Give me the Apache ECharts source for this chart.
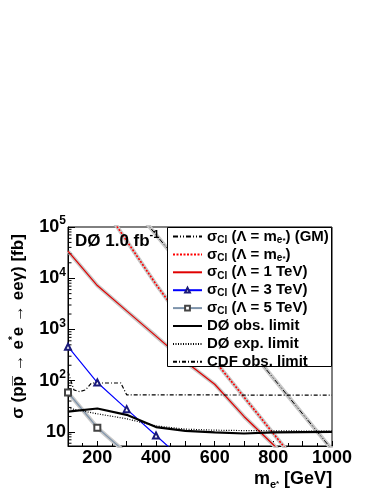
<!DOCTYPE html>
<html>
<head>
<meta charset="utf-8">
<script src="https://cdn.jsdelivr.net/npm/echarts@6/dist/echarts.min.js"></script>
<style>
html, body { margin: 0; padding: 0; background: #fff; }
#chart { width: 382px; height: 494px; }
</style>
</head>
<body>
<div id="chart"></div>
<script>
// theory curves, sampled every 100 GeV
const massTheory = [100, 200, 300, 400, 500, 600, 700, 800, 900, 1000];
const sigmaGM = [null, null, 355000, 70800, 14100, 2820, 562, 112, 22.4, 4.5];
const sigmaMestar = [null, 380000, 53700, 7600, 1260, 245, 48, 9.3, 1.8, null];
const sigma1TeV = [33700, 7200, 2300, 740, 236, 85, 20, 5.6, 1.5, null];
const sigma3TeV = [460, 92, 27.8, 8.5, 2.6, null, null, null, null, null];
const sigma5TeV = [58.7, 12.1, 3.8, null, null, null, null, null, null, null];
// limits
const limitObs = [24.9, 28.6, 21.5, 12.4, 10.5, 9.8, 9.3, 9.8, 9.9, 10.0];
const limitExp = [29, 22.5, 18, 13.1, 11.3, 10.8, 10.6, 10.5, 10.4, 10.3];
const massCDF = [100, 120, 140, 160, 180, 280, 300, 1000];
const limitCDF = [150, 66, 61, 66, 90, 90, 53, 52];

const FONT = "'Liberation Sans', Arial, sans-serif";

function pairs(xs, ys) {
  const out = [];
  xs.forEach((x, i) => { if (ys[i] != null) out.push([x, ys[i]]); });
  return out;
}

// minor ticks of the log axis at 2..9 x 10^n
const minorTickVals = [];
for (let n = 0; n < 5; n++) {
  for (let k = 2; k <= 9; k++) {
    const v = k * Math.pow(10, n);
    if (v > 5.3 && v < 100000) minorTickVals.push([100, v]);
  }
}

const legendText = {
  GM: '{a|σ}{s|CI}{a| (Λ = m}{s|e}{t|*}{a|) (GM)}',
  me: '{a|σ}{s|CI}{a| (Λ = m}{s|e}{t|*}{a|)}',
  t1: '{a|σ}{s|CI}{a| (Λ = 1 TeV)}',
  t3: '{a|σ}{s|CI}{a| (Λ = 3 TeV)}',
  t5: '{a|σ}{s|CI}{a| (Λ = 5 TeV)}',
  obs: '{a|DØ obs. limit}',
  exp: '{a|DØ exp. limit}',
  cdf: '{a|CDF obs. limit}'
};

function band(data) {
  return {
    type: 'line', data: data, symbol: 'none', silent: true, z: 1,
    lineStyle: { color: '#c8c8c8', width: 4 }
  };
}

// plain line; the symbol is kept only so the legend draws a bare line
function curve(name, data, lineStyle) {
  return {
    name: name, type: 'line', data: data, z: 2,
    symbol: 'circle', showSymbol: false,
    lineStyle: lineStyle, itemStyle: { color: 'rgba(0,0,0,0)' }
  };
}

const chart = echarts.init(document.getElementById('chart'));
chart.setOption({
  animation: false,
  backgroundColor: '#fff',
  title: {
    text: '{a|DØ 1.0 fb}{e|-1}',
    left: 75,
    top: 231,
    padding: 0,
    textStyle: {
      rich: {
        a: { fontFamily: FONT, fontSize: 17, fontWeight: 'bold', color: '#000', lineHeight: 20 },
        e: { fontFamily: FONT, fontSize: 11, fontWeight: 'bold', color: '#000', lineHeight: 8, padding: [0, 0, 12, 0] }
      }
    }
  },
  grid: {
    left: 68, right: 50, top: 227, bottom: 48,
    outerBoundsMode: 'none', containLabel: false,
    show: true, borderColor: '#000', borderWidth: 1, backgroundColor: 'transparent'
  },
  xAxis: {
    type: 'value', min: 100, max: 1000, interval: 100,
    name: '{m|m}{s|e}{t|*}{m| [GeV]}',
    nameLocation: 'middle', nameGap: 17,
    nameTextStyle: {
      verticalAlign: 'top', padding: [0, 0, 0, 186],
      rich: {
        m: { fontFamily: FONT, fontSize: 18, fontWeight: 'bold', color: '#000', lineHeight: 20 },
        s: { fontFamily: FONT, fontSize: 11, fontWeight: 'bold', color: '#000', lineHeight: 8, padding: [12, 0, 0, 0] },
        t: { fontFamily: FONT, fontSize: 8, fontWeight: 'bold', color: '#000', lineHeight: 8, padding: [8, 0, 0, 0] }
      }
    },
    axisLine: { lineStyle: { color: '#000', width: 1 } },
    axisTick: { inside: true, length: 5, lineStyle: { color: '#000' } },
    minorTick: { show: true, splitNumber: 2, length: 3, lineStyle: { color: '#000' } },
    splitLine: { show: false },
    axisLabel: {
      margin: 3, color: '#000', fontFamily: FONT, fontSize: 18, fontWeight: 'bold',
      formatter: v => (v % 200 === 0 ? String(v) : '')
    }
  },
  yAxis: {
    type: 'log', logBase: 10, min: 5.3, max: 100000,
    name: '{a|σ (pp\u0305 → e}{u|*}{a|e → eeγ) [fb]}',
    nameLocation: 'middle', nameRotate: 90, nameGap: 38,
    nameTextStyle: {
      padding: [0, 0, 0, 20],
      rich: {
        a: { fontFamily: FONT, fontSize: 17, fontWeight: 'bold', color: '#000', lineHeight: 18 },
        u: { fontFamily: FONT, fontSize: 10, fontWeight: 'bold', color: '#000', lineHeight: 8, padding: [0, 0, 10, 0] }
      }
    },
    axisLine: { lineStyle: { color: '#000', width: 1 } },
    axisTick: { inside: true, length: 7, lineStyle: { color: '#000' } },
    splitLine: { show: false },
    axisLabel: {
      margin: 2,
      formatter: v => {
        const e = Math.log10(v);
        if (Math.abs(e - Math.round(e)) > 1e-6) return '';
        const n = Math.round(e);
        return n === 1 ? '{b|10}' : '{b|10}{e|' + n + '}';
      },
      rich: {
        b: { fontFamily: FONT, fontSize: 18, fontWeight: 'bold', color: '#000', lineHeight: 20 },
        e: { fontFamily: FONT, fontSize: 12, fontWeight: 'bold', color: '#000', lineHeight: 10, padding: [0, 0, 12, 0] }
      }
    }
  },
  legend: {
    orient: 'vertical', left: 172, top: 228, padding: 0,
    itemWidth: 29, itemHeight: 6, itemGap: 0.9,
    data: ['GM', 'me', 't1', 't3', 't5', 'obs', 'exp', 'cdf'],
    formatter: name => legendText[name],
    textStyle: {
      color: '#000', lineHeight: 17,
      rich: {
        a: { fontFamily: FONT, fontSize: 15, fontWeight: 'bold', color: '#000', lineHeight: 17 },
        s: { fontFamily: FONT, fontSize: 10, fontWeight: 'bold', color: '#000', lineHeight: 10, verticalAlign: 'bottom' },
        t: { fontFamily: FONT, fontSize: 8, fontWeight: 'bold', color: '#000', lineHeight: 14, verticalAlign: 'bottom' }
      }
    }
  },
  graphic: [{
    type: 'rect', z: 3, silent: true,
    shape: { x: 167.5, y: 227.5, width: 164, height: 139 },
    style: { fill: '#fff', stroke: '#000', lineWidth: 1 }
  }],
  series: [
    band(pairs(massTheory, sigmaGM)),
    band(pairs(massTheory, sigmaMestar)),
    band(pairs(massTheory, sigma1TeV)),
    band(pairs(massTheory, sigma5TeV)),
    {
      type: 'custom', silent: true, z: 2,
      data: minorTickVals,
      renderItem: (params, api) => {
        const p = api.coord([api.value(0), api.value(1)]);
        return { type: 'line', shape: { x1: p[0], y1: p[1], x2: p[0] + 3.5, y2: p[1] }, style: { stroke: '#000', lineWidth: 1 } };
      }
    },
    curve('GM', pairs(massTheory, sigmaGM), { color: '#000', width: 1, type: [5, 2, 1, 2, 1, 2] }),
    curve('me', pairs(massTheory, sigmaMestar), { color: '#ff0000', width: 1.6, type: [2, 1.5] }),
    curve('t1', pairs(massTheory, sigma1TeV), { color: '#e00000', width: 1.2 }),
    {
      name: 't3', type: 'line', data: pairs(massTheory, sigma3TeV), z: 2,
      symbol: 'emptyTriangle', symbolSize: 6,
      lineStyle: { color: '#0000ff', width: 1.2 }, itemStyle: { color: '#1a1a7a', borderWidth: 1 }
    },
    {
      name: 't5', type: 'line', data: pairs(massTheory, sigma5TeV), z: 2,
      symbol: 'emptyRect', symbolSize: 6,
      lineStyle: { color: '#7d93ab', width: 1.2 }, itemStyle: { color: '#444', borderWidth: 1 }
    },
    curve('obs', pairs(massTheory, limitObs), { color: '#000', width: 2.2 }),
    curve('exp', pairs(massTheory, limitExp), { color: '#000', width: 1.2, type: [1, 1.5] }),
    curve('cdf', pairs(massCDF, limitCDF), { color: '#000', width: 1.2, type: [4, 2, 1, 2] })
  ]
});
</script>
</body>
</html>
